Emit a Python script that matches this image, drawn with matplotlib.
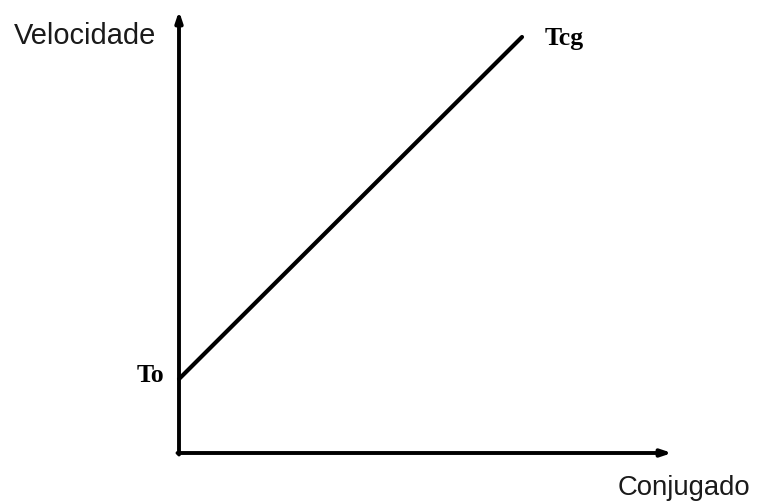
import matplotlib.pyplot as plt

# speed vs torque sketch (arbitrary units, 1 unit ~ 50 px)
conjugado = [0.0, 6.86]
velocidade = [1.48, 8.32]
point_labels = ["To", "Tcg"]
x_axis_end = 9.86
y_axis_end = 8.84

fig = plt.figure(figsize=(7.6, 5.02), dpi=100)
ax = fig.add_axes([0, 0, 1, 1])
ax.set_xlim(-3.58, 11.62)
ax.set_ylim(-0.96, 9.08)
ax.axis("off")

# axes with arrows
arrow = dict(arrowstyle="-|>,head_length=0.6,head_width=0.2", color="black",
             lw=2.8, shrinkA=0, shrinkB=0)
ax.annotate("", xy=(0, y_axis_end), xytext=(0, -0.03), arrowprops=arrow)
ax.annotate("", xy=(x_axis_end, 0), xytext=(-0.03, 0), arrowprops=arrow)

# the line
ax.plot(conjugado, velocidade, color="black", lw=3.0, solid_capstyle="round")

serif = dict(family="Liberation Serif", fontweight="bold", fontsize=18.5)
ax.text(conjugado[0] - 0.3, velocidade[0] + 0.08, point_labels[0],
        ha="right", va="center", **serif)
ax.text(conjugado[1] + 0.46, velocidade[1] - 0.02, point_labels[1],
        ha="left", va="center", **serif)

sans = dict(family="Liberation Sans", color="#1a1a1a")
ax.text(-3.3, 8.36, "Velocidade", ha="left", va="center", fontsize=20.9, **sans)
ax.text(11.42, -0.68, "Conjugado", ha="right", va="center", fontsize=19.8, **sans)

fig.savefig("out.png", dpi=100)
